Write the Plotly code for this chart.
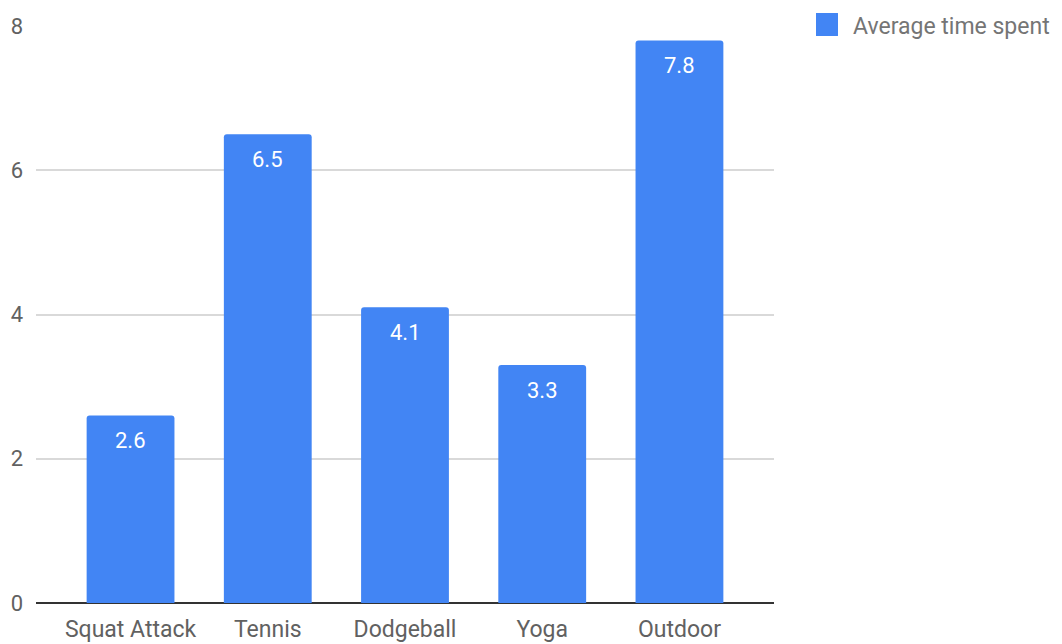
import plotly.graph_objects as go

categories = ["Squat Attack", "Tennis", "Dodgeball", "Yoga", "Outdoor"]
avg_time = [2.6, 6.5, 4.1, 3.3, 7.8]
y_ticks = [0, 2, 4, 6, 8]
series_name = "Average time spent"

BLUE = "#4285F4"
FONT = "Roboto"

fig = go.Figure()
fig.add_trace(go.Bar(
    x=categories,
    y=avg_time,
    marker=dict(color=BLUE, line=dict(width=0)),
    width=0.64,
    name=series_name,
    showlegend=False,
))

# value labels inside the top of each bar
for cat, val in zip(categories, avg_time):
    fig.add_annotation(
        x=cat, y=val, text=f"{val}", showarrow=False,
        yanchor="top", yshift=-11,
        font=dict(family=FONT, size=22, color="white"),
    )

# legend entry
fig.add_shape(
    type="rect", xref="paper", yref="paper",
    x0=1.0569, x1=1.0867, y0=1.0225, y1=0.9827,
    fillcolor=BLUE, line=dict(width=0), layer="above",
)
fig.add_annotation(
    xref="paper", yref="paper", x=1.105, y=1.0,
    xanchor="left", yanchor="middle", showarrow=False,
    text=series_name, font=dict(family=FONT, size=23, color="#757575"),
)

fig.update_layout(
    width=1062, height=644,
    margin=dict(l=36, r=288, t=26, b=41),
    paper_bgcolor="white", plot_bgcolor="white",
    barcornerradius=3,
    font=dict(family=FONT, size=22, color="#616161"),
    showlegend=False,
    xaxis=dict(
        range=[-0.689, 4.689], showgrid=False, ticks="",
        showline=False, zeroline=False, ticklabelstandoff=10,
        automargin=False,
        tickfont=dict(family=FONT, size=23, color="#616161"),
    ),
    yaxis=dict(
        range=[0, 8], tickvals=y_ticks, showgrid=True,
        gridcolor="#d9d9d9", gridwidth=1.5, zeroline=True,
        zerolinecolor="#333333", zerolinewidth=1.5, ticks="",
        ticklabelstandoff=12, automargin=False,
        tickfont=dict(family=FONT, size=22, color="#616161"),
    ),
)

fig.write_html("out.html")
